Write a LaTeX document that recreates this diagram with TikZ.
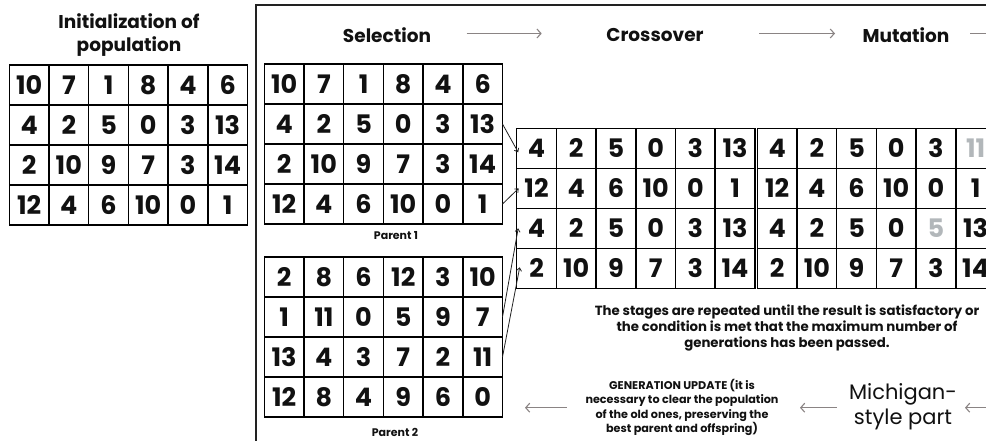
\documentclass[tikz,border=0pt]{standalone}
\usepackage{fontspec}
\setmainfont{Poppins}
\usetikzlibrary{arrows.meta,calc}
\definecolor{arrgray}{HTML}{8A8484}
\definecolor{mutgray}{HTML}{B2B7BA}
\definecolor{framec}{HTML}{222222}
\definecolor{txt}{HTML}{111111}
\newcommand\gry[1]{\textcolor{mutgray}{#1}}
\newcommand\drawgrid[4]{%
  \foreach \rowlist [count=\ri] in {#4} {%
    \foreach \v [count=\ci] in \rowlist {%
      \node[cell] (#1-\ri-\ci) at ({#2+(\ci-0.5)*39.7},{#3+(\ri-0.5)*40}) {\v};
    }%
  }%
}
\tikzset{
  cell/.style={draw=black, line width=1.5pt, minimum width=39.7pt, minimum height=40pt,
    inner sep=0pt, outer sep=0pt, text=txt, font=\fontsize{25.5}{25.5}\selectfont\bfseries},
  head/.style={text=txt, align=center, font=\fontsize{18.5}{23}\selectfont\bfseries},
  plabel/.style={text=txt, font=\fontsize{11}{12}\selectfont\bfseries},
  para/.style={text=txt, align=center, font=\fontsize{13.3}{16}\selectfont\bfseries},
  genup/.style={text=txt, align=center, font=\fontsize{11.2}{14.5}\selectfont\bfseries},
  mich/.style={text=txt, align=center, font=\fontsize{21}{25}\selectfont},
  harrow/.style={draw=arrgray, line width=1.1pt, -{Straight Barb[length=4pt,width=9pt]}},
  conn/.style={draw=framec, line width=0.8pt, -{Straight Barb[length=3pt,width=5pt]}},
}
\begin{document}
\begin{tikzpicture}[x=1pt,y=-1pt]
\useasboundingbox (0,0) rectangle (986,441);
\clip (0,0) rectangle (986,441);
\fill[white] (0,0) rectangle (986,441);
% frame
\draw[framec, line width=1.3pt] (256,5) rectangle (1100,520);
% headers
\node[head] (init) at (129,35) {Initialization of\\population};
\node[head] (sel) at (387,35) {Selection};
\node[head] (cro) at (655,35) {Crossover};
\node[head] (mut) at (906,35) {Mutation};
\coordinate (h1a) at (466.7,33.5);
\coordinate (h1b) at (541.7,33.5);
\coordinate (h2a) at (759.3,33.5);
\coordinate (h2b) at (835,33.5);
\coordinate (h3a) at (970,33.5);
\coordinate (h3b) at (1010,33.5);
\draw[harrow] (h1a) -- (h1b);
\draw[harrow] (h2a) -- (h2b);
\draw[harrow,-] (h3a) -- (h3b);
% grids
\drawgrid{g}{9.3}{65}{{10,7,1,8,4,6},{4,2,5,0,3,13},{2,10,9,7,3,14},{12,4,6,10,0,1}}
\drawgrid{pa}{264.3}{64}{{10,7,1,8,4,6},{4,2,5,0,3,13},{2,10,9,7,3,14},{12,4,6,10,0,1}}
\drawgrid{pb}{264.3}{257}{{2,8,6,12,3,10},{1,11,0,5,9,7},{13,4,3,7,2,11},{12,8,4,9,6,0}}
\drawgrid{cx}{516.7}{128.3}{{4,2,5,0,3,13},{12,4,6,10,0,1},{4,2,5,0,3,13},{2,10,9,7,3,14}}
\drawgrid{mu}{757.3}{128.3}{{4,2,5,0,3,\gry{11}},{12,4,6,10,0,1},{4,2,5,0,\gry{5},13},{2,10,9,7,3,14}}
\node[plabel] (pl1) at (396,236) {Parent 1};
\node[plabel] (pl2) at (395,432) {Parent 2};
% crossover connectors
\draw[conn] (pa-2-6.east) -- ([xshift=1.5pt,yshift=-4pt]cx-1-1.west);
\draw[conn] (pa-4-6.east) -- ([xshift=2pt]cx-2-1.west);
\draw[conn] (pb-2-6.east) -- ([xshift=1.5pt]cx-3-1.west);
\draw[conn] (pb-3-6.east) -- ([xshift=3pt,yshift=1pt]cx-4-1.west);
% texts
\node[para] (rep) at (787,328) {The stages are repeated until the result is satisfactory or\\the condition is met that the maximum number of\\generations has been passed.};
\node[genup] (gen) at (682,407.5) {GENERATION UPDATE (it is\\necessary to clear the population\\of the old ones, preserving the\\best parent and offspring)};
\node[mich] (mic) at (903,407) {Michigan-\\style part};
\coordinate (b1a) at (836.7,407.7);
\coordinate (b1b) at (800,407.7);
\coordinate (b2a) at (566.7,407.7);
\coordinate (b2b) at (525,407.7);
\coordinate (b3a) at (1010,407.7);
\coordinate (b3b) at (965,407.7);
\draw[harrow] (b1a) -- (b1b);
\draw[harrow] (b2a) -- (b2b);
\draw[harrow] (b3a) -- (b3b);
\end{tikzpicture}
\end{document}
